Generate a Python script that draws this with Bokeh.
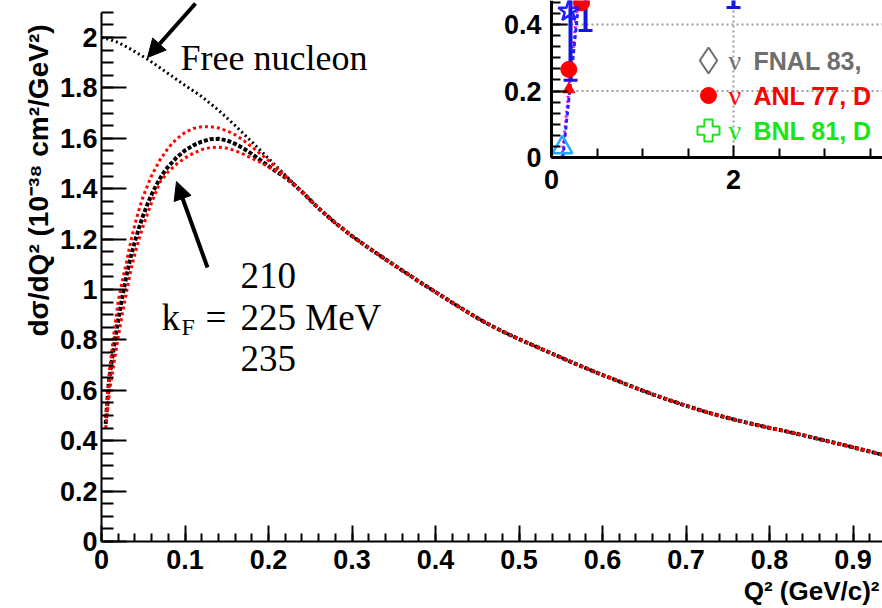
import math
from bokeh.plotting import figure
from bokeh.models import (Range1d, LinearAxis, FixedTicker, Label, Arrow, NormalHead,
                          CustomJSTickFormatter)
from bokeh.embed import file_html
from bokeh.resources import INLINE

# ---------------- data ----------------
# Free nucleon (black dotted)
free_q = [0.0, 0.01, 0.02, 0.03, 0.04, 0.055, 0.07, 0.085, 0.10, 0.12, 0.14, 0.16, 0.18, 0.20, 0.22]
free_y = [2.0, 1.992, 1.980, 1.963, 1.944, 1.914, 1.880, 1.845, 1.810, 1.766, 1.712, 1.651, 1.586, 1.520, 1.454]

# kF = 225 MeV (black)
k225_q = [0.005, 0.009, 0.015, 0.02, 0.025, 0.03, 0.035, 0.04, 0.045, 0.05, 0.055, 0.06, 0.065, 0.07,
          0.075, 0.08, 0.09, 0.10, 0.11, 0.12, 0.13, 0.14, 0.15, 0.16, 0.17, 0.18, 0.19, 0.20, 0.21,
          0.22, 0.23]
k225_y = [0.467, 0.640, 0.775, 0.880, 0.972, 1.055, 1.130, 1.190, 1.245, 1.295, 1.338, 1.376, 1.410,
          1.440, 1.466, 1.488, 1.524, 1.552, 1.572, 1.587, 1.596, 1.598, 1.592, 1.578, 1.560, 1.538,
          1.514, 1.490, 1.466, 1.445, 1.418]

# kF = 210 MeV (red, upper)
k210_q = [0.005, 0.01, 0.015, 0.02, 0.025, 0.03, 0.035, 0.04, 0.045, 0.05, 0.06, 0.07, 0.08, 0.09,
          0.10, 0.11, 0.12, 0.13, 0.14, 0.15, 0.16, 0.17, 0.18, 0.19, 0.20, 0.21, 0.22, 0.23]
k210_y = [0.490, 0.690, 0.830, 0.955, 1.035, 1.110, 1.190, 1.258, 1.318, 1.370, 1.452, 1.514, 1.562,
          1.598, 1.623, 1.639, 1.646, 1.646, 1.641, 1.630, 1.614, 1.592, 1.566, 1.539, 1.512, 1.482,
          1.452, 1.420]

# kF = 235 MeV (red, lower)
k235_q = [0.005, 0.0096, 0.015, 0.02, 0.025, 0.03, 0.035, 0.04, 0.045, 0.05, 0.055, 0.06, 0.065,
          0.07, 0.08, 0.09, 0.10, 0.11, 0.12, 0.13, 0.14, 0.15, 0.16, 0.17, 0.18, 0.19, 0.20, 0.21,
          0.22, 0.23]
k235_y = [0.450, 0.595, 0.710, 0.810, 0.905, 0.990, 1.075, 1.142, 1.200, 1.252, 1.300, 1.345, 1.385,
          1.425, 1.468, 1.498, 1.522, 1.541, 1.555, 1.563, 1.565, 1.561, 1.551, 1.537, 1.521, 1.505,
          1.487, 1.468, 1.446, 1.418]

# common tail where all curves coincide
tail_q = [0.24, 0.26, 0.28, 0.30, 0.32, 0.34, 0.36, 0.38, 0.40, 0.42, 0.44, 0.46, 0.48, 0.50, 0.52,
          0.54, 0.56, 0.58, 0.60, 0.62, 0.64, 0.66, 0.68, 0.70, 0.72, 0.74, 0.76, 0.78, 0.80, 0.82,
          0.84, 0.86, 0.88, 0.90, 0.92, 0.94]
tail_y = [1.388, 1.322, 1.264, 1.212, 1.165, 1.120, 1.076, 1.032, 0.990, 0.948, 0.907, 0.868, 0.834,
          0.803, 0.774, 0.745, 0.716, 0.688, 0.661, 0.635, 0.609, 0.584, 0.561, 0.539, 0.518, 0.499,
          0.482, 0.466, 0.451, 0.437, 0.422, 0.406, 0.390, 0.374, 0.357, 0.340]

x_ticks = [0, 0.1, 0.2, 0.3, 0.4, 0.5, 0.6, 0.7, 0.8, 0.9]
y_ticks = [0, 0.2, 0.4, 0.6, 0.8, 1.0, 1.2, 1.4, 1.6, 1.8, 2.0]
x_title = "Q² (GeV/c)²"
y_title = "dσ/dQ² (10⁻³⁸ cm²/GeV²)"

# inset (pasted piece of another figure)
ins_tri_x, ins_tri_y = [0.12], [0.03]
ins_star_x, ins_star_y = [0.19], [0.44]
ins_circ_x, ins_circ_y = [0.19, 0.33], [0.265, 0.465]
ins_rtri_x, ins_rtri_y = [0.19], [0.205]
ins_err_x, ins_err_lo, ins_err_hi = [0.209, 0.374, 2.0], [0.232, 0.382, 0.451], [0.6, 0.6, 0.6]
ins_blue_line_x, ins_blue_line_y = [0.125, 0.30], [0.0, 0.47]
ins_mag_line_x, ins_mag_line_y = [0.115, 0.29], [0.0, 0.47]
ins_x_ticks = [0, 2]
ins_y_ticks = [0, 0.2, 0.4]
ins_grid_y = [0.2, 0.4]
ins_grid_x = [2]
legend_labels = ["FNAL 83,", "ANL 77, D", "BNL 81, D"]
legend_colors = ["#6e6e6e", "#ff0000", "#18e618"]

# ---------------- geometry ----------------
# The plotting frame covers the whole canvas; axes are drawn at fixed places.
W, H = 882, 608
X0, SX = 101, 835             # picture px of Q2=0, px per unit
Y0, SY = 541, 252             # picture px of y=0, px per unit
IX0, ISX = 551, 91            # inset x: px of 0, px/unit
IY0, ISY = 157, 332.5         # inset y


def dx(px):
    return (px - X0) / SX


def dy(py):
    return (Y0 - py) / SY


x_end = dx(W)
p = figure(width=W, height=H, x_range=Range1d(dx(0), dx(W)), y_range=Range1d(dy(H), dy(0)),
           output_backend="svg", toolbar_location=None, x_axis_type=None, y_axis_type=None,
           min_border=0)
p.background_fill_color = "white"
p.border_fill_color = "white"
p.outline_line_color = None
p.extra_x_ranges = {"ix": Range1d((0 - IX0) / ISX, (W - IX0) / ISX)}
p.extra_y_ranges = {"iy": Range1d((IY0 - H) / ISY, IY0 / ISY)}
ix_end = (W - IX0) / ISX
iy_end = IY0 / ISY

fmt = CustomJSTickFormatter(code="return String(Math.round(tick*100)/100)")
SANS = "Liberation Sans"
SERIF = "Liberation Serif"
lab_style = dict(major_label_text_font=SANS, major_label_text_font_style="bold",
                 major_label_text_color="black")

xaxis = LinearAxis(ticker=FixedTicker(ticks=x_ticks, minor_ticks=[i * 0.02 for i in range(48)]),
                   formatter=fmt, fixed_location=0, bounds=(0, x_end),
                   major_tick_in=16, major_tick_out=0, minor_tick_in=8, minor_tick_out=0,
                   axis_line_width=2, major_tick_line_width=2, minor_tick_line_width=2,
                   major_label_text_font_size="27px", major_label_standoff=8, **lab_style)
p.add_layout(xaxis, "below")
yaxis = LinearAxis(ticker=FixedTicker(ticks=y_ticks, minor_ticks=[i * 0.05 for i in range(43)]),
                   formatter=fmt, fixed_location=0, bounds=(0, 2.1),
                   major_tick_in=25, major_tick_out=0, minor_tick_in=12, minor_tick_out=0,
                   axis_line_width=2, major_tick_line_width=2, minor_tick_line_width=2,
                   major_label_text_font_size="27px", major_label_standoff=4, **lab_style)
p.add_layout(yaxis, "left")

# ---------------- inset ----------------
ik = dict(x_range_name="ix", y_range_name="iy")
p.segment(x0=[0, 0], y0=ins_grid_y, x1=[ix_end, ix_end], y1=ins_grid_y, line_color="#9a9a9a",
          line_width=2, line_dash="2 3", **ik)
p.segment(x0=ins_grid_x, y0=[0], x1=ins_grid_x, y1=[iy_end], line_color="#9a9a9a",
          line_width=2, line_dash="2 3", **ik)

iax = LinearAxis(ticker=FixedTicker(ticks=ins_x_ticks, minor_ticks=[0.5, 1, 1.5, 2.5, 3, 3.5]),
                 formatter=fmt, fixed_location=0, bounds=(0, ix_end), major_tick_in=12,
                 major_tick_out=0, minor_tick_in=9, minor_tick_out=0, axis_line_width=3,
                 major_tick_line_width=2, minor_tick_line_width=2,
                 major_label_text_font_size="27px", major_label_standoff=12, **lab_style, **ik)
p.add_layout(iax, "below")
iay = LinearAxis(ticker=FixedTicker(ticks=ins_y_ticks,
                                    minor_ticks=[i * 0.2 / 6 for i in range(15)]),
                 formatter=fmt, fixed_location=0, bounds=(0, iy_end), major_tick_in=16,
                 major_tick_out=0, minor_tick_in=9, minor_tick_out=0, axis_line_width=3,
                 major_tick_line_width=2, minor_tick_line_width=2,
                 major_label_text_font_size="27px", major_label_standoff=10, **lab_style, **ik)
p.add_layout(iay, "left")

p.line(ins_mag_line_x, ins_mag_line_y, line_color="#ff00ff", line_width=3, line_dash="2 3", **ik)
p.line(ins_blue_line_x, ins_blue_line_y, line_color="#2222ff", line_width=3, line_dash="4 3", **ik)
p.segment(x0=ins_err_x, y0=ins_err_lo, x1=ins_err_x, y1=ins_err_hi, line_color="#1515e0",
          line_width=4, **ik)
p.scatter(ins_err_x, ins_err_lo, marker="dash", size=14, line_color="#1515e0", line_width=3, **ik)
p.scatter(ins_rtri_x, ins_rtri_y, marker="triangle", size=12, fill_color="#ff0000",
          line_color="#ff0000", **ik)
p.scatter(ins_circ_x, ins_circ_y, marker="circle", size=16, fill_color="#ff0000",
          line_color="#ff0000", **ik)
p.scatter(ins_star_x, ins_star_y, marker="star", size=22, fill_color=None,
          line_color="#2020ff", line_width=2.5, **ik)
p.scatter(ins_tri_x, ins_tri_y, marker="triangle", size=20, fill_color=None,
          line_color="#22aaff", line_width=2.5, **ik)

leg_y = [(IY0 - py) / ISY for py in (60, 95, 130)]
leg_mx = (708 - IX0) / ISX
p.scatter([leg_mx], [leg_y[0]], marker="diamond", size=26, fill_color=None,
          line_color=legend_colors[0], line_width=2, **ik)
p.scatter([leg_mx], [leg_y[1]], marker="circle", size=16, fill_color=legend_colors[1],
          line_color=legend_colors[1], **ik)
p.scatter([leg_mx], [leg_y[2]], marker="plus", size=22, fill_color=None,
          line_color=legend_colors[2], line_width=2, **ik)
for lab, col, ly in zip(legend_labels, legend_colors, leg_y):
    p.add_layout(Label(x=(728 - IX0) / ISX, y=ly, text="ν", text_color=col, text_font=SERIF,
                       text_font_size="28px", text_baseline="middle", **ik))
    p.add_layout(Label(x=(753 - IX0) / ISX, y=ly, text=lab, text_color=col, text_font=SANS,
                       text_font_style="bold", text_font_size="25px", text_baseline="middle", **ik))

# ---------------- main curves ----------------
p.line(free_q + tail_q, free_y + tail_y, line_color="black", line_width=3, line_dash="2 3")
p.line(k225_q + tail_q, k225_y + tail_y, line_color="black", line_width=4, line_dash="4 2")
p.line(k210_q + tail_q, k210_y + tail_y, line_color="#ff0000", line_width=3, line_dash="3 3")
p.line(k235_q + tail_q, k235_y + tail_y, line_color="#ff0000", line_width=3, line_dash="3 3")

# arrows
p.add_layout(Arrow(end=NormalHead(size=18, fill_color="black", line_color="black"),
                   x_start=dx(195), y_start=dy(3), x_end=dx(147), y_end=dy(57),
                   line_width=4, line_color="black"))
p.add_layout(Arrow(end=NormalHead(size=18, fill_color="black", line_color="black"),
                   x_start=dx(207), y_start=dy(267), x_end=dx(176), y_end=dy(181),
                   line_width=4, line_color="black"))

# texts
serif37 = dict(text_font=SERIF, text_font_size="37px", text_baseline="alphabetic",
               text_color="black")
p.add_layout(Label(x=dx(180), y=dy(57), text="Free nucleon", text_font=SERIF,
                   text_font_size="36px", text_baseline="alphabetic", text_color="black"))
p.add_layout(Label(x=dx(240), y=dy(275), text="210", **serif37))
p.add_layout(Label(x=dx(161), y=dy(317), text="k", **serif37))
p.add_layout(Label(x=dx(181), y=dy(326), text="F", text_font=SERIF, text_font_size="24px",
                   text_baseline="alphabetic", text_color="black"))
p.add_layout(Label(x=dx(205), y=dy(317), text="=", **serif37))
p.add_layout(Label(x=dx(240), y=dy(317), text="225 MeV", **serif37))
p.add_layout(Label(x=dx(240), y=dy(358), text="235", **serif37))

# axis titles
p.add_layout(Label(x=dx(38), y=dy(180), text=y_title, angle=math.pi / 2, text_align="center",
                   text_baseline="alphabetic", text_font=SANS, text_font_style="bold",
                   text_font_size="28px", text_color="black"))
p.add_layout(Label(x=dx(879), y=dy(590), text=x_title, text_align="right",
                   text_baseline="alphabetic", text_font=SANS, text_font_style="bold",
                   text_font_size="26px", text_color="black"))

with open("out.html", "w", encoding="utf-8") as f:
    f.write(file_html(p, INLINE))
